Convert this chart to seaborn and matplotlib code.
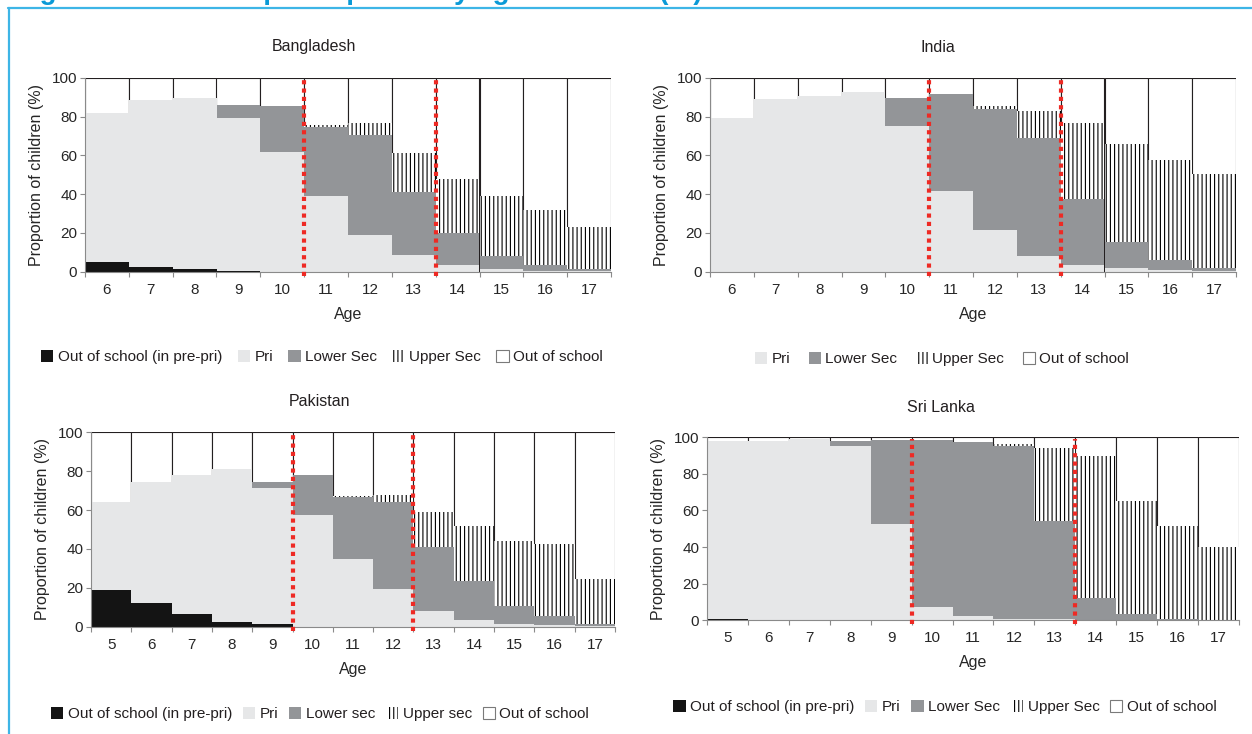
# Grafico de participacion escolar por edad y nivel (4 paises)
#############################################################

import matplotlib.pyplot as plt
import matplotlib.lines as mlines
import matplotlib.patches as mpatches
import seaborn as sns
import pandas as pd
import numpy as np

# Datos (% de niños en cada nivel, por edad) ------------------------------

# Bangladesh
bd_edades = [6, 7, 8, 9, 10, 11, 12, 13, 14, 15, 16, 17]
bd_prepri = [5.0, 2.2, 1.2, 0.5, 0, 0, 0, 0, 0, 0, 0, 0]
bd_pri = [77.0, 86.1, 88.5, 78.9, 61.7, 38.8, 19.1, 8.6, 3.3, 1.2, 0.5, 0.3]
bd_lower = [0, 0, 0, 6.3, 23.5, 35.8, 51.3, 32.6, 16.6, 6.9, 2.8, 1.2]
bd_upper = [0, 0, 0, 0, 0, 0.8, 6.4, 19.8, 28.0, 31.1, 28.3, 21.4]
bd_cortes = [11, 14]

# India
in_edades = [6, 7, 8, 9, 10, 11, 12, 13, 14, 15, 16, 17]
in_prepri = [0, 0, 0, 0, 0, 0, 0, 0, 0, 0, 0, 0]
in_pri = [79.0, 89.2, 90.7, 92.8, 74.9, 41.8, 21.5, 7.9, 3.3, 1.7, 0.9, 0.5]
in_lower = [0, 0, 0, 0, 14.4, 49.6, 62.5, 61.0, 34.3, 13.6, 5.1, 1.2]
in_upper = [0, 0, 0, 0, 0, 0, 1.4, 14.1, 39.2, 50.7, 51.7, 48.8]
in_cortes = [11, 14]

# Pakistan
pk_edades = [5, 6, 7, 8, 9, 10, 11, 12, 13, 14, 15, 16, 17]
pk_prepri = [19.0, 12.3, 6.3, 2.6, 1.2, 0, 0, 0, 0, 0, 0, 0, 0]
pk_pri = [45.3, 62.0, 71.6, 78.4, 70.0, 57.3, 35.0, 19.2, 8.1, 3.6, 1.4, 0.9, 0.5]
pk_lower = [0, 0, 0, 0, 3.1, 20.6, 31.6, 45.0, 33.1, 19.9, 9.2, 4.4, 1.0]
pk_upper = [0, 0, 0, 0, 0, 0, 0.8, 3.4, 17.6, 28.3, 33.5, 37.4, 23.2]
pk_cortes = [10, 13]

# Sri Lanka
sl_edades = [5, 6, 7, 8, 9, 10, 11, 12, 13, 14, 15, 16, 17]
sl_prepri = [0.9, 0, 0, 0, 0, 0, 0, 0, 0, 0, 0, 0, 0]
sl_pri = [97.3, 97.8, 98.9, 95.3, 52.6, 7.5, 2.2, 0.9, 0.5, 0.2, 0.1, 0, 0]
sl_lower = [0, 0, 0, 2.5, 45.8, 90.9, 95.1, 94.2, 53.8, 11.8, 3.4, 0.5, 0.2]
sl_upper = [0, 0, 0, 0, 0, 0, 0.3, 1.4, 40.1, 78.0, 61.9, 50.9, 39.7]
sl_cortes = [10, 14]

# Estilo general
sns.set_theme(style="white")
plt.rcParams['font.family'] = ['Liberation Sans', 'DejaVu Sans']
plt.rcParams['hatch.linewidth'] = 0.8
plt.rcParams['text.color'] = '#231f20'

NEGRO = '#141414'
GRIS_CLARO = '#e6e7e8'
GRIS = '#939598'
BORDE = '#231f20'
EJE = '#8a8a8a'
ROJO = '#ee2a24'


def dibujar_panel(ax, edades, prepri, pri, lower, upper, cortes):
    datos = pd.DataFrame({'edad': edades, 'prepri': prepri, 'pri': pri,
                          'lower': lower, 'upper': upper})
    # Acumulados (se dibujan de arriba hacia abajo)
    datos['c_prepri'] = datos['prepri']
    datos['c_pri'] = datos['c_prepri'] + datos['pri']
    datos['c_lower'] = datos['c_pri'] + datos['lower']
    datos['c_upper'] = datos['c_lower'] + datos['upper']
    datos['total'] = 100

    comun = dict(data=datos, x='edad', width=1, saturation=1,
                 errorbar=None, ax=ax)
    sns.barplot(y='total', color='white', edgecolor=BORDE, linewidth=0.8, **comun)
    sns.barplot(y='c_upper', color='white', edgecolor='black', linewidth=0,
                hatch='||||', **comun)
    sns.barplot(y='c_lower', color=GRIS, linewidth=0, **comun)
    sns.barplot(y='c_pri', color=GRIS_CLARO, linewidth=0, **comun)
    sns.barplot(y='c_prepri', color=NEGRO, linewidth=0, **comun)

    n = len(edades)
    # Lineas rojas de cambio de nivel
    for c in cortes:
        pos = edades.index(c) - 0.5
        ax.axvline(pos, ymin=-0.02, ymax=0.99, color=ROJO, lw=3,
                   ls=(0, (1, 1)), clip_on=False, zorder=5)

    ax.set_xlim(-0.5, n - 0.5)
    ax.set_ylim(0, 100)
    ax.set_yticks(range(0, 101, 20))
    ax.set_xticks(np.arange(n + 1) - 0.5, minor=True)
    ax.tick_params(axis='x', which='major', length=0, pad=8, labelsize=11)
    ax.tick_params(axis='x', which='minor', bottom=True, length=3.5,
                   width=0.8, color=EJE)
    ax.tick_params(axis='y', left=True, length=3.5, width=0.8, color=EJE,
                   pad=2, labelsize=11)
    for lado in ['top', 'right']:
        ax.spines[lado].set_visible(False)
    for lado in ['left', 'bottom']:
        ax.spines[lado].set_color(EJE)
        ax.spines[lado].set_linewidth(0.8)
    ax.set_xlabel('Age', fontsize=11.5, labelpad=7)
    ax.set_ylabel('Proportion of children (%)', fontsize=11.5, labelpad=6)


W, H = 1252, 734
fig = plt.figure(figsize=(12.52, 7.34), dpi=100)


def caja(x0, x1, y0, y1):
    # pixeles -> fracciones de figura
    return [x0 / W, 1 - y1 / H, (x1 - x0) / W, (y1 - y0) / H]


ax_bd = fig.add_axes(caja(85, 611, 77.7, 271.7))
ax_in = fig.add_axes(caja(710, 1236, 77.7, 271.7))
ax_pk = fig.add_axes(caja(91, 615, 432.3, 626.7))
ax_sl = fig.add_axes(caja(707, 1239, 437.3, 620.3))

dibujar_panel(ax_bd, bd_edades, bd_prepri, bd_pri, bd_lower, bd_upper, bd_cortes)
dibujar_panel(ax_in, in_edades, in_prepri, in_pri, in_lower, in_upper, in_cortes)
dibujar_panel(ax_pk, pk_edades, pk_prepri, pk_pri, pk_lower, pk_upper, pk_cortes)
dibujar_panel(ax_sl, sl_edades, sl_prepri, sl_pri, sl_lower, sl_upper, sl_cortes)

# Titulos de cada pais
for nombre, x, y in [('Bangladesh', 314, 47), ('India', 938, 47),
                     ('Pakistan', 319, 402), ('Sri Lanka', 941, 407)]:
    fig.text(x / W, 1 - y / H, nombre, ha='center', va='center', fontsize=11.5)

# Leyendas
h_prepri = mpatches.Patch(facecolor=NEGRO, edgecolor=NEGRO, lw=0)
h_pri = mpatches.Patch(facecolor=GRIS_CLARO, edgecolor=GRIS_CLARO, lw=0)
h_lower = mpatches.Patch(facecolor=GRIS, edgecolor=GRIS, lw=0)
h_upper = mpatches.Patch(facecolor='white', edgecolor='black', lw=0, hatch='||||')
h_oos = mpatches.Patch(facecolor='white', edgecolor='#7a7a7a', lw=0.8)

leyendas = [
    ([h_prepri, h_pri, h_lower, h_upper, h_oos],
     ['Out of school (in pre-pri)', 'Pri', 'Lower Sec', 'Upper Sec', 'Out of school'],
     322, 357, 1.0),
    ([h_pri, h_lower, h_upper, h_oos],
     ['Pri', 'Lower Sec', 'Upper Sec', 'Out of school'], 942, 359, 1.2),
    ([h_prepri, h_pri, h_lower, h_upper, h_oos],
     ['Out of school (in pre-pri)', 'Pri', 'Lower sec', 'Upper sec', 'Out of school'],
     320, 714, 0.7),
    ([h_prepri, h_pri, h_lower, h_upper, h_oos],
     ['Out of school (in pre-pri)', 'Pri', 'Lower Sec', 'Upper Sec', 'Out of school'],
     945, 707, 0.7),
]
for handles, labels, x, y, esp in leyendas:
    fig.legend(handles, labels, loc='center', bbox_to_anchor=(x / W, 1 - y / H),
               ncol=len(labels), frameon=False, fontsize=11,
               handlelength=0.8, handleheight=0.8, handletextpad=0.3,
               columnspacing=esp, borderaxespad=0)

# Marco azul y titulo cortado arriba (como en el original)
azul = '#3db5e6'
fig.add_artist(mlines.Line2D([8 / W, 1], [1 - 8 / H, 1 - 8 / H],
                             transform=fig.transFigure, color=azul, lw=1.6))
fig.add_artist(mlines.Line2D([9 / W, 9 / W], [0, 1 - 8 / H],
                             transform=fig.transFigure, color=azul, lw=1.6))
fig.text(15 / W, 1 + 1 / H, 'Figure 5.1: School participation by age and level (%)',
         color='#0a9ad7', fontsize=20, fontweight='bold', ha='left', va='baseline')

fig.savefig('out.png', dpi=100)
